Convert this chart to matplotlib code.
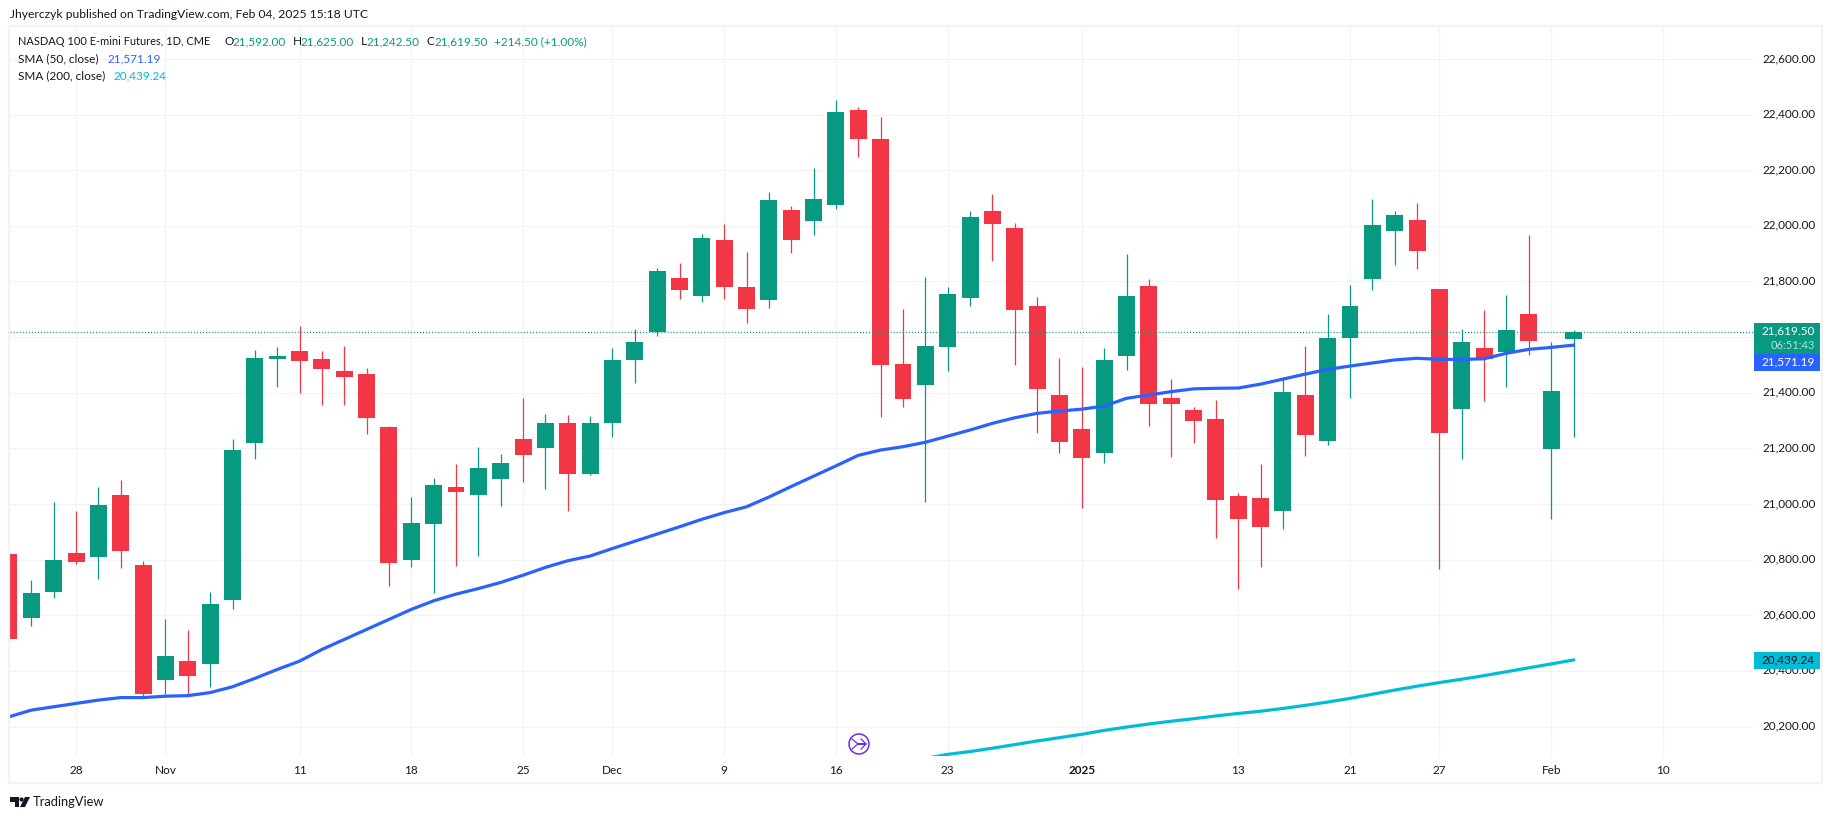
import matplotlib
matplotlib.use('Agg')
import matplotlib.pyplot as plt
from matplotlib.patches import Rectangle, Circle, Polygon
from matplotlib.transforms import blended_transform_factory, ScaledTranslation
import numpy as np

W, H = 1835, 819

# trading bar number, 0 = Oct 28
first_bar = -3
opens = [20820, 20590, 20683, 20823, 20809, 21032, 20780, 20367, 20435, 20424,
         20654, 21219, 21521, 21550, 21521, 21478, 21467, 21277, 20798, 20928,
         21061, 21032, 21090, 21233, 21201, 21291, 21108, 21292, 21518, 21618,
         21813, 21748, 21949, 21780, 21733, 22057, 22018, 22075, 22417, 22313,
         21503, 21428, 21564, 21741, 22054, 21992, 21712, 21392, 21269, 21183,
         21532, 21784, 21381, 21338, 21305, 21028, 21021, 20974, 21392, 21226,
         21597, 21809, 21982, 22021, 21773, 21341, 21561, 21545, 21683, 21197,
         21592]
highs = [20830, 20726, 21007, 20975, 21061, 21086, 20795, 20586, 20547, 20683,
         21233, 21554, 21564, 21640, 21550, 21568, 21489, 21280, 21025, 21093,
         21144, 21205, 21180, 21381, 21323, 21320, 21316, 21561, 21629, 21849,
         21867, 21971, 22007, 21906, 22122, 22072, 22208, 22453, 22428, 22392,
         21701, 21816, 21780, 22054, 22115, 22010, 21744, 21525, 21492, 21561,
         21899, 21809, 21449, 21349, 21374, 21040, 21144, 21458, 21568, 21683,
         21787, 22097, 22054, 22082, 21773, 21629, 21697, 21751, 21967, 21582,
         21625]
lows = [20500, 20561, 20662, 20784, 20730, 20770, 20307, 20316, 20310, 20341,
        20622, 21162, 21421, 21399, 21356, 21356, 21252, 20705, 20773, 20680,
        20777, 20813, 20992, 21079, 21054, 20975, 21104, 21242, 21435, 21604,
        21737, 21726, 21737, 21651, 21705, 21902, 21967, 22061, 22248, 21313,
        21349, 21007, 21478, 21712, 21874, 21500, 21255, 21183, 20986, 21147,
        21482, 21280, 21169, 21219, 20877, 20695, 20775, 20910, 21172, 21212,
        21381, 21769, 21859, 21845, 20767, 21161, 21370, 21420, 21536, 20946,
        21242.5]
closes = [20514, 20680, 20798, 20791, 20996, 20831, 20316, 20453, 20381, 20640,
          21194, 21525, 21533, 21514, 21485, 21457, 21309, 20787, 20931, 21068,
          21043, 21129, 21147, 21176, 21291, 21108, 21291, 21518, 21582, 21838,
          21769, 21957, 21780, 21701, 22093, 21949, 22097, 22410, 22313, 21500,
          21377, 21568, 21755, 22032, 22007, 21698, 21413, 21223, 21165, 21518,
          21748, 21359, 21359, 21298, 21014, 20946, 20917, 21402, 21248, 21597,
          21712, 22003, 22039, 21910, 21255, 21582, 21521, 21625, 21586, 21406,
          21619.5]

sma50 = [20235, 20259, 20271, 20283, 20295, 20304, 20304, 20309, 20311, 20322,
         20343, 20373, 20405, 20435, 20477, 20513, 20549, 20585, 20621, 20652,
         20676, 20696, 20718, 20744, 20772, 20796, 20813, 20840, 20866, 20892,
         20918, 20945, 20969, 20990, 21025, 21063, 21100, 21137, 21175, 21194,
         21206, 21222, 21244, 21266, 21290, 21310, 21326, 21334, 21341, 21352,
         21380, 21392, 21404, 21414, 21416, 21417, 21431, 21449, 21467, 21484,
         21496, 21507, 21518, 21524, 21520, 21520, 21522, 21542, 21556, 21563,
         21571.19]

sma200_start = 37
sma200 = [20070, 20085, 20100, 20110, 20122, 20135, 20148, 20160, 20172, 20186,
          20198, 20209, 20219, 20228, 20238, 20247, 20255, 20265, 20276, 20288,
          20301, 20316, 20331, 20345, 20358, 20370, 20383, 20397, 20411, 20425,
          20439.24]

price_ticks = [20200, 20400, 20600, 20800, 21000, 21200, 21400, 21600, 21800,
               22000, 22200, 22400, 22600]
time_ticks = [0, 4, 10, 15, 20, 24, 29, 34, 39, 45, 52, 57, 61, 66, 71]
time_labels = ['28', 'Nov', '11', '18', '25', 'Dec', '9', '16', '23', '2025',
               '13', '21', '27', 'Feb', '10']

GREEN = '#089981'
RED = '#F23645'
BLUE = '#2962FF'
CYAN = '#00BCD4'
DARK = '#131722'
GRID = '#F1F3F6'

plt.rcParams['font.family'] = ['Lato', 'DejaVu Sans']
plt.rcParams['font.size'] = 8.5

fig = plt.figure(figsize=(W / 100, H / 100), dpi=100, facecolor='white')

# pane between px x 10..1753 and px y 27..756
ax = fig.add_axes([10 / W, 1 - 756 / H, 1743 / W, 729 / H])
ax.set_xlim(first_bar + (10 - 9) / 22.35, first_bar + (1753 - 9) / 22.35)
ax.set_ylim(20094, 22715)
for s in ax.spines.values():
    s.set_visible(False)
ax.set_axisbelow(True)
ax.grid(True, color=GRID, lw=0.8)

ax.yaxis.tick_right()
ax.set_yticks(price_ticks)
# the 21,600 label sits behind the last price tag in the original
ax.set_yticklabels(['' if p == 21600 else f'{p:,.2f}' for p in price_ticks], color=DARK)
ax.tick_params(axis='y', length=0, pad=6.5)
up = ScaledTranslation(0, 1.5 / 100, fig.dpi_scale_trans)
for lab in ax.get_yticklabels():
    lab.set_transform(lab.get_transform() + up)
ax.set_xticks(time_ticks)
ax.set_xticklabels(time_labels, color=DARK)
ax.tick_params(axis='x', length=0, pad=6.5)
ax.get_xticklabels()[time_labels.index('2025')].set_fontweight('bold')

bars = np.arange(first_bar, first_bar + len(opens))
o = np.array(opens)
c = np.array(closes)
colors = [GREEN if b >= a else RED for a, b in zip(opens, closes)]

ax.vlines(bars, lows, highs, colors=colors, lw=0.9, zorder=3)
ax.bar(bars, np.abs(c - o), bottom=np.minimum(o, c), width=0.76, color=colors,
       lw=0, zorder=3)

ax.plot(bars, sma50, color=BLUE, lw=2.3, zorder=4, solid_joinstyle='round')
ax.plot(np.arange(sma200_start, sma200_start + len(sma200)), sma200,
        color=CYAN, lw=2.3, zorder=4, solid_joinstyle='round')

ax.axhline(closes[-1], color=GREEN, lw=1.0, ls=(0, (0.75, 1.45)), zorder=5)

# price tags on the right scale
tag = blended_transform_factory(ax.transAxes, ax.transData)
tag_w = 66 / 1743
def price_tag(y0, y1, col):
    ax.add_patch(Rectangle((1.0005, y0), tag_w, y1 - y0, transform=tag,
                           facecolor=col, lw=0, clip_on=False, zorder=6))
tx = 1 + 62 / 1743
price_tag(21540, 21651, GREEN)
price_tag(21479, 21540, BLUE)
price_tag(20406, 20467, CYAN)
ax.text(tx, 21622, '21,619.50', transform=tag, color='white', ha='right',
        va='center', zorder=7, clip_on=False)
ax.text(tx, 21571, '06:51:43', transform=tag, color='#B5E0D8', ha='right',
        va='center', zorder=7, clip_on=False, fontsize=8)
ax.text(tx, 21510, '21,571.19', transform=tag, color='white', ha='right',
        va='center', zorder=7, clip_on=False)
ax.text(tx, 20439.24, '20,439.24', transform=tag, color=DARK, ha='right',
        va='center', zorder=7, clip_on=False)

# everything else is placed in pixel coordinates
ov = fig.add_axes([0, 0, 1, 1], facecolor='none')
ov.set_xlim(0, W)
ov.set_ylim(H, 0)
ov.axis('off')
ov.add_patch(Rectangle((9, 26), 1813, 757, fill=False, ec=GRID, lw=1.6))

ov.text(10, 14.5, 'Jhyerczyk published on TradingView.com, Feb 04, 2025 15:18 UTC',
        color=DARK, va='center', fontsize=8.7)

def legend_row(y, parts):
    for x, s, col in parts:
        ov.text(x, y, s, color=col, va='center')

ov.text(18, 41.5, 'NASDAQ 100 E-mini Futures, 1D, CME', color=DARK, va='center', fontsize=7.95)
legend_row(41.5, [(224, 'O', DARK), (232.5, '21,592.00', GREEN),
                  (292.5, 'H', DARK), (300.5, '21,625.00', GREEN),
                  (360.5, 'L', DARK), (366.5, '21,242.50', GREEN),
                  (426.5, 'C', DARK), (434, '21,619.50', GREEN),
                  (494, '+214.50 (+1.00%)', GREEN)])
legend_row(58.5, [(18, 'SMA (50, close)', DARK), (107, '21,571.19', BLUE)])
legend_row(76, [(18, 'SMA (200, close)', DARK), (113.5, '20,439.24', CYAN)])

# marker under bar 35
PURPLE = '#6A2CF5'
ov.add_patch(Circle((859, 744), 10, fill=False, ec=PURPLE, lw=1.1))
ov.plot([852, 858, 866, 858, 852], [739, 744, 744, 744, 749], color=PURPLE, lw=0.9)
ov.plot([861, 866, 861], [739, 744, 749], color=PURPLE, lw=0.9)

# TradingView logo
ov.add_patch(Polygon([(10, 797), (19, 797), (19, 807), (14.5, 807), (14.5, 801.5), (10, 801.5)],
                     color=DARK, lw=0))
ov.add_patch(Circle((21.5, 799.5), 2.1, color=DARK, lw=0))
ov.add_patch(Polygon([(25, 797), (30, 797), (25, 807), (20, 807)], color=DARK, lw=0))
ov.text(33, 802, 'TradingView', color=DARK, va='center', fontsize=9.3)

fig.savefig('out.png', dpi=100)
